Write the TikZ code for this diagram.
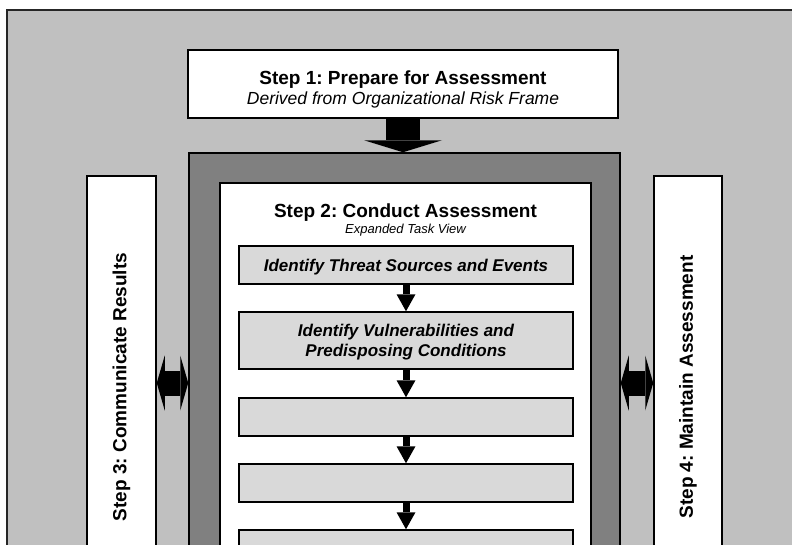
\documentclass[tikz,border=0pt]{standalone}
\usepackage{fontspec}
\setmainfont{Liberation Sans}
\usetikzlibrary{arrows.meta,positioning}
\frenchspacing

\definecolor{outergray}{HTML}{C0C0C0}
\definecolor{framegray}{HTML}{808080}
\definecolor{taskgray}{HTML}{D9D9D9}

\tikzset{
  box/.style={draw=black, line width=1.5pt, inner sep=0pt},
  stepbox/.style={box, fill=white},
  steptext/.style={font=\fontsize{19}{19}\selectfont\bfseries},
  taskbox/.style={box, fill=taskgray, minimum width=334pt, minimum height=38pt,
    text depth=0pt, align=center, font=\fontsize{17}{20}\selectfont\bfseries\itshape},
  flow/.style={line width=7pt, -{Triangle[width=19pt,length=17pt,line width=0pt]}},
  bigflow/.style={line width=34pt, -{Triangle[width=78pt,length=12pt,line width=0pt]}},
  dbl/.style={line width=25pt, {Triangle[width=55pt,length=8pt,line width=0pt]}-{Triangle[width=55pt,length=8pt,line width=0pt]}}
}

\begin{document}
\begin{tikzpicture}[x=1pt,y=-1pt]
\clip (0,0) rectangle (792,544);
\draw[line width=2pt, draw=black!85, fill=outergray] (7,10) rectangle (810,570);

% step 1
\node[stepbox, minimum width=430pt, minimum height=68pt] (step1) at (403,84) {};
\node[align=center, font=\fontsize{17.5}{20}\selectfont] (s1title) at (403,89.5)
  {{\fontsize{19}{19}\selectfont\bfseries Step 1: Prepare for Assessment}\\
   \itshape Derived from Organizational Risk Frame};

% step 2 with its tasks
\node[box, fill=framegray, minimum width=431pt, minimum height=447pt] (frame) at (404.5,376.5) {};
\node[stepbox, minimum width=371pt, minimum height=420pt] (step2) at (405.5,393) {};
\node[align=center, font=\fontsize{13}{16}\selectfont] (s2title) at (405.5,219.5)
  {{\fontsize{19}{19}\selectfont\bfseries Step 2: Conduct Assessment}\\
   \itshape Expanded Task View};

\node[taskbox] (t1) at (406,265) {Identify Threat Sources and Events};
\node[taskbox, minimum height=57pt] (t2) at (406,340.5) {Identify Vulnerabilities and\\Predisposing Conditions};
\node[taskbox] (t3) at (406,417) {};
\node[taskbox] (t4) at (406,483) {};
\node[taskbox] (t5) at (406,549) {};

% steps 3 and 4
\node[stepbox, steptext, rotate=90, minimum width=422pt, minimum height=69pt] (step3) at (121.5,387) {Step 3: Communicate Results};
\node[stepbox, steptext, rotate=90, minimum width=422pt, minimum height=68pt] (step4) at (688,387) {Step 4: Maintain Assessment};

% arrows
\draw[bigflow] (step1.south) -- (step1.south |- frame.north);
\foreach \a/\b in {t1/t2,t2/t3,t3/t4,t4/t5}
  \draw[flow] (\a.south) -- (\b.north);
\draw[dbl] ([yshift=4pt]step3.south) -- ([yshift=4pt]frame.west |- step3.south);
\draw[dbl] ([yshift=4pt]frame.east |- step4.north) -- ([yshift=4pt]step4.north);

\end{tikzpicture}
\end{document}
